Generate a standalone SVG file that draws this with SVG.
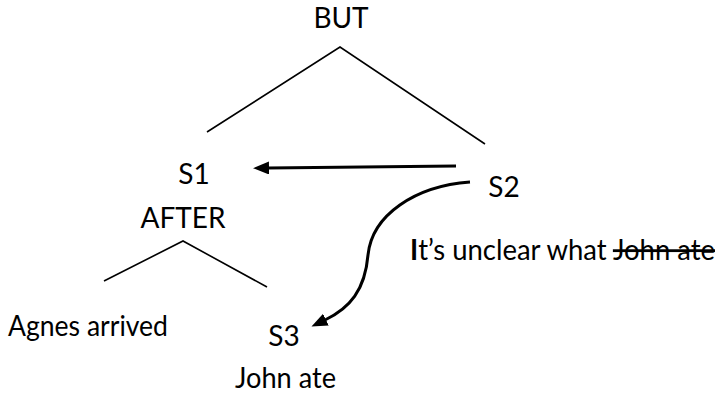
<svg xmlns="http://www.w3.org/2000/svg" width="718" height="395" viewBox="0 0 718 395">
<style>
text{font-family:Lato,"Open Sans","Liberation Sans",sans-serif;font-size:28px;fill:#000}
.t{stroke:#000;stroke-width:1.6;fill:none}
.a{stroke:#000;stroke-width:3;fill:none}
</style>
<defs>
<marker id="ah" markerUnits="userSpaceOnUse" markerWidth="18" markerHeight="14" refX="1" refY="6.5" orient="auto">
<path d="M0,0 L16,6.5 L0,13 z" fill="#000"/>
</marker>
</defs>
<rect width="718" height="395" fill="#fff"/>
<g id="tree-lines">
<path class="t" d="M207,132 L340,47 L485,144"/>
<path class="t" d="M104,281 L183,241 L267,287"/>
</g>
<g id="connectors">
<path class="a" d="M456,166 L268,168" marker-end="url(#ah)"/>
<path class="a" d="M470,182 C415,186 372,215 368,255 C365,290 350,308 325,320" marker-end="url(#ah)"/>
</g>
<g id="node-but"><text x="341" y="28" text-anchor="middle">BUT</text></g>
<g id="node-s1"><text x="194" y="184" text-anchor="middle">S1</text></g>
<g id="node-s2"><text x="504" y="197" text-anchor="middle">S2</text>
<text x="410" y="260" textLength="305" lengthAdjust="spacingAndGlyphs"><tspan font-weight="bold">I</tspan>t’s unclear what <tspan text-decoration="line-through">John ate</tspan></text></g>
<g id="node-after"><text x="183" y="228" text-anchor="middle">AFTER</text></g>
<g id="node-agnes"><text x="8" y="336" textLength="160" lengthAdjust="spacingAndGlyphs">Agnes arrived</text></g>
<g id="node-s3"><text x="284" y="346" text-anchor="middle">S3</text>
<text x="235" y="388" textLength="101" lengthAdjust="spacingAndGlyphs">John ate</text></g>
</svg>
